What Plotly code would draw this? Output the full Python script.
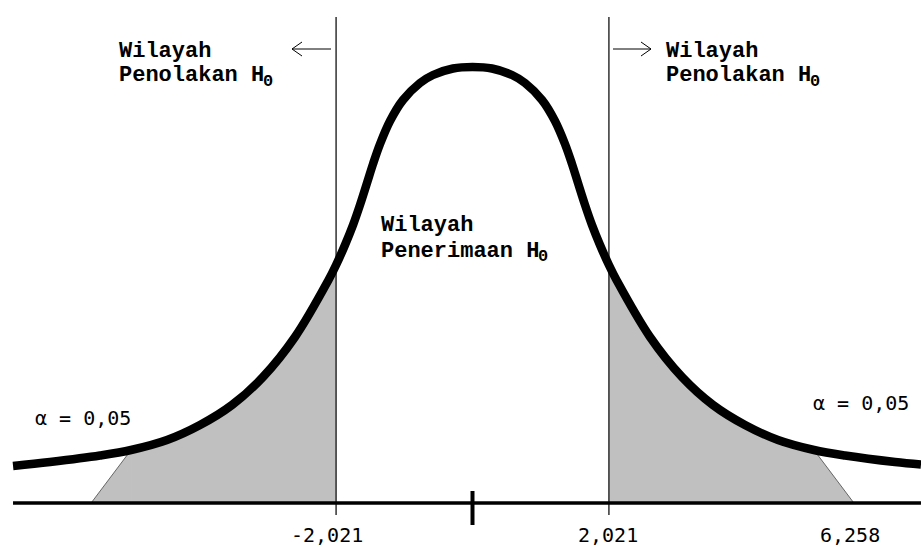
import plotly.graph_objects as go

W, H = 921, 547

# ---- data ----
# bell curve (x in t-units, height in chart units)
curve_x = [-6.807, -6.259, -5.519, -5.059, -4.526, -4.037, -3.563, -3.104, -2.630,
           -2.141, -2.021, -1.889, -1.770, -1.667, -1.563, -1.474, -1.370, -1.222,
           -1.030, -0.778, -0.585, -0.289, 0.0,
           0.289, 0.585, 0.778, 1.030, 1.222, 1.370, 1.474, 1.563, 1.667, 1.770,
           1.889, 2.021, 2.141, 2.630, 3.104, 3.563, 4.037, 4.526, 5.059, 5.519,
           6.259, 6.644]
curve_y = [37, 41, 47.5, 53, 63, 78, 98, 126, 166,
           222, 238, 258, 278, 298, 320, 339, 359, 382,
           403, 420, 428, 434.5, 436,
           434.5, 428, 420, 403, 382, 359, 339, 320, 298, 278,
           258, 238, 222, 166, 126, 98, 78, 63, 53, 47.5,
           41, 38.5]
critical = [-2.021, 2.021]
tail_join = [-5.059, 5.059]     # where the shaded tail meets the curve
tail_end = [-5.65, 5.65]        # where the shaded tail meets the axis
tick_labels = ["-2,021", "2,021", "6,258"]
alpha_text = "α = 0,05"
region_reject = ["Wilayah", "Penolakan H"]
region_accept = ["Wilayah", "Penerimaan H"]
sub_text = "0"

GRAY = "#c0c0c0"
fig = go.Figure()

# shaded tails under the curve
for lo, hi in [(tail_join[0], critical[0]), (critical[1], tail_join[1])]:
    xs = [x for x in curve_x if lo - 1e-9 <= x <= hi + 1e-9]
    ys = [y for x, y in zip(curve_x, curve_y) if lo - 1e-9 <= x <= hi + 1e-9]
    fig.add_trace(go.Scatter(x=xs, y=ys, mode="lines", line=dict(width=0, shape="spline"),
                             fill="tozeroy", fillcolor=GRAY, hoverinfo="skip"))

# triangular ends of the tails
for j, e in zip(tail_join, tail_end):
    yj = curve_y[curve_x.index(j)]
    fig.add_trace(go.Scatter(x=[e, j, j, e], y=[0, yj, 0, 0], mode="lines",
                             line=dict(width=0), fill="toself", fillcolor=GRAY,
                             hoverinfo="skip"))
    fig.add_trace(go.Scatter(x=[e, j], y=[0, yj], mode="lines",
                             line=dict(width=1, color="#666666"), hoverinfo="skip"))

# critical value lines
for c in critical:
    fig.add_trace(go.Scatter(x=[c, c], y=[-12, 486], mode="lines",
                             line=dict(width=1.3, color="#111111"), hoverinfo="skip"))

# axis line
fig.add_trace(go.Scatter(x=[curve_x[0], curve_x[-1]], y=[0, 0], mode="lines",
                         line=dict(width=3.5, color="black"), hoverinfo="skip"))
# centre tick
fig.add_trace(go.Scatter(x=[0, 0], y=[-22, 12], mode="lines",
                         line=dict(width=4, color="black"), hoverinfo="skip"))

# the curve
fig.add_trace(go.Scatter(x=curve_x, y=curve_y, mode="lines",
                         line=dict(width=8.5, color="black", shape="spline"),
                         hoverinfo="skip"))


def px(x):
    return x / W


def py(y):
    return 1 - y / H


HFONT = dict(family="Liberation Mono, Courier New, monospace", size=22, color="black",
             weight="bold")
SFONT = dict(family="Liberation Mono, Courier New, monospace", size=17, color="black",
             weight="bold")
NFONT = dict(family="DejaVu Sans Mono, Liberation Mono, monospace", size=20, color="black")

annotations = []


def text(t, x, y, font, xanchor="left"):
    annotations.append(dict(text=t, x=px(x), y=py(y), xref="paper", yref="paper",
                            xanchor=xanchor, yanchor="middle", showarrow=False, font=font))


for (lines, x0, y0) in [(region_reject, 117, 51), (region_reject, 664, 51),
                        (region_accept, 379, 226)]:
    text(lines[0], x0, y0, HFONT)
    text(lines[1], x0, y0 + 25, HFONT)
    text(sub_text, x0 + len(lines[1]) * 13.2 - 1, y0 + 30, SFONT)

text(alpha_text, 33, 418, NFONT)
text(alpha_text, 811, 403, NFONT)

for lab, xc in zip(tick_labels, [327, 608, 850]):
    text(lab, xc, 535, NFONT, xanchor="center")

# arrows
shapes = []


def seg(x0, y0, x1, y1):
    shapes.append(dict(type="line", xref="paper", yref="paper",
                       x0=px(x0), y0=py(y0), x1=px(x1), y1=py(y1),
                       line=dict(color="black", width=1)))


seg(292, 49, 331, 49)
seg(292, 49, 302, 42)
seg(292, 49, 302, 56)
seg(613, 49, 651, 49)
seg(651, 49, 641, 42)
seg(651, 49, 641, 56)

fig.update_layout(
    width=W, height=H,
    margin=dict(l=0, r=0, t=0, b=0),
    paper_bgcolor="white", plot_bgcolor="white",
    showlegend=False,
    xaxis=dict(range=[-7.0, 6.6444], visible=False, fixedrange=True),
    yaxis=dict(range=[-44, 503], visible=False, fixedrange=True),
    annotations=annotations,
    shapes=shapes,
)

fig.write_html("out.html", config={"displayModeBar": False},
               post_script="document.body.style.margin='0';document.body.style.overflow='hidden';")
